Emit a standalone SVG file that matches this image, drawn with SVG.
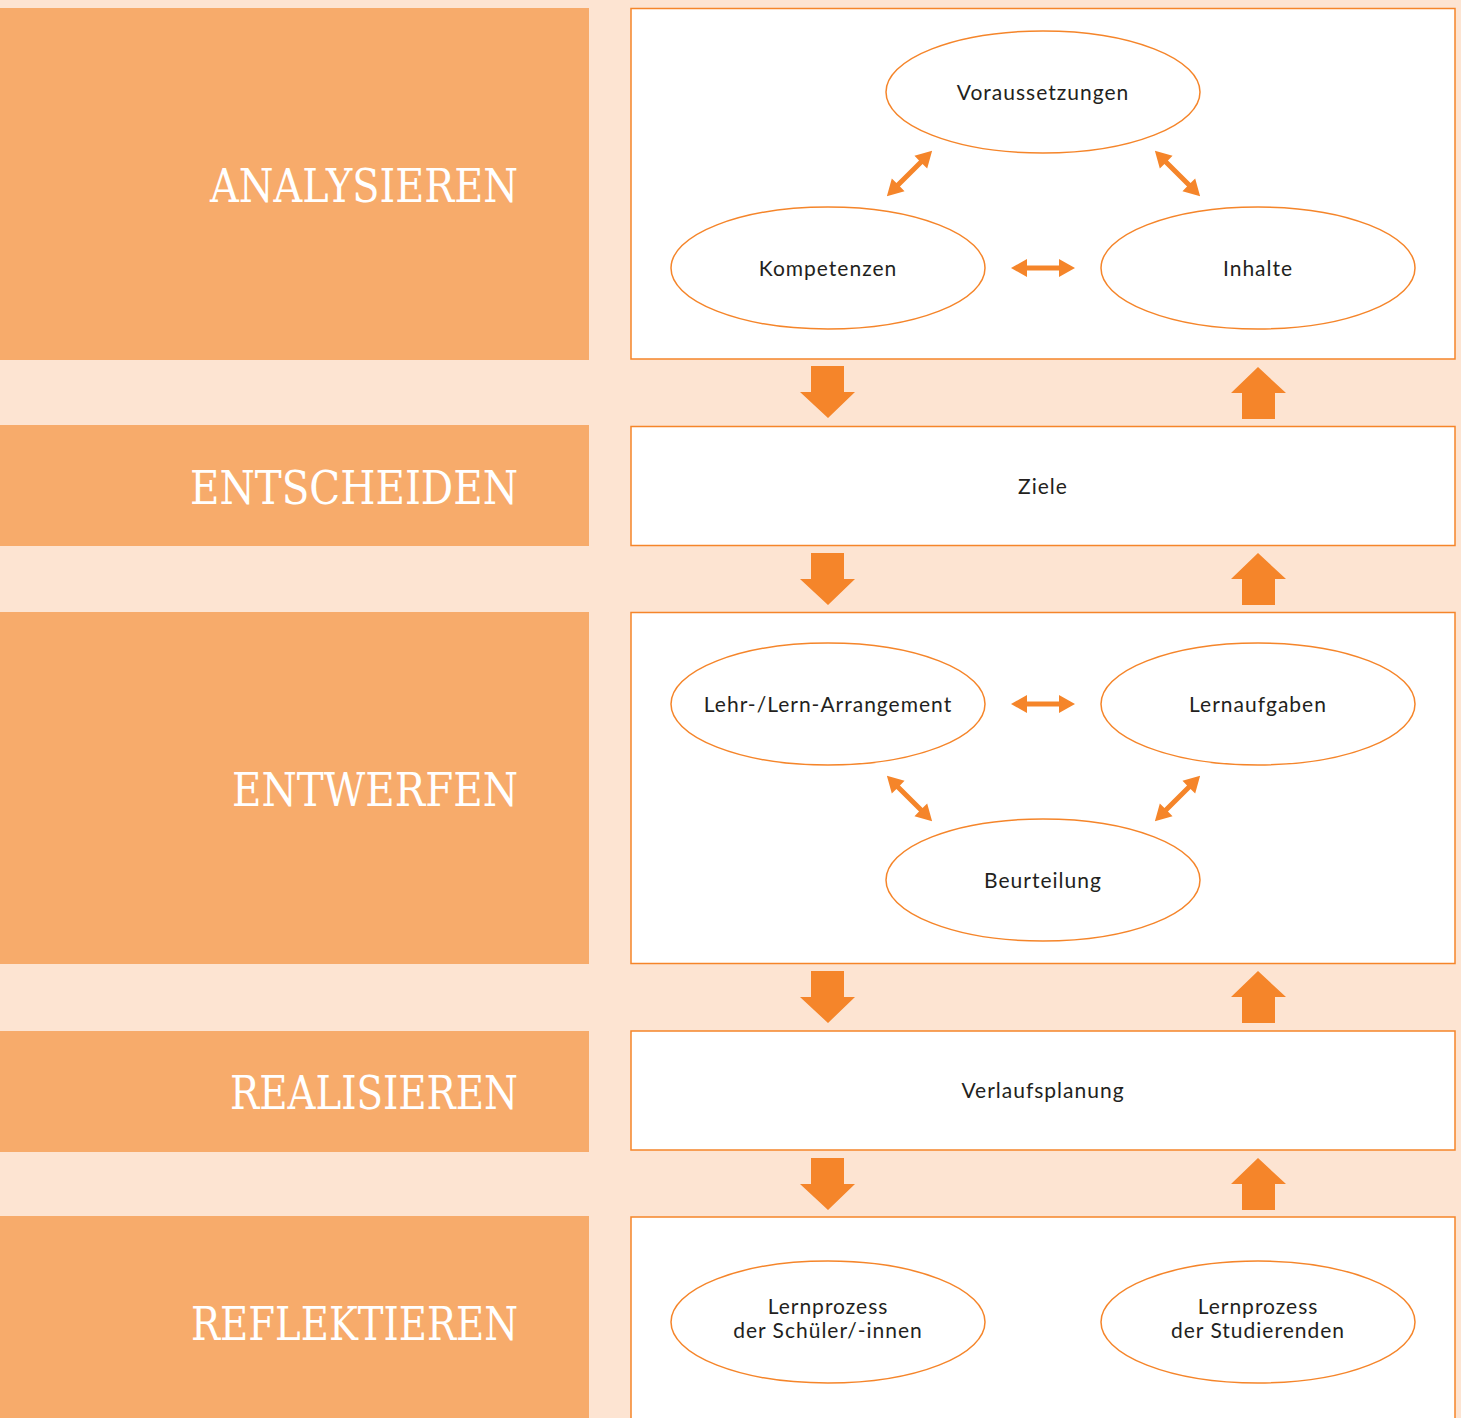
<svg xmlns="http://www.w3.org/2000/svg" width="1461" height="1418" viewBox="0 0 1461 1418">
  <defs>
    <style>
      .bar { fill: #F7AB6B; }
      .box { fill: #FFFFFF; stroke: #F5852A; stroke-width: 1.5; }
      .ell { fill: #FFFFFF; stroke: #F5852A; stroke-width: 1.5; }
      .phase { font-family: "DejaVu Serif", "Liberation Serif", serif; font-size: 46px; fill: #FFFFFF; text-anchor: end; }
      .lbl { font-family: "Lato", "Open Sans", sans-serif; font-size: 21px; fill: #231F20; text-anchor: middle; letter-spacing: 1px; }
      .flow { fill: #F5852A; }
    </style>
    <!-- two-way arrow, 64px long, centred on the origin -->
    <path id="both" d="M-32,0 L-16,-9 L-16,-2.5 L16,-2.5 L16,-9 L32,0 L16,9 L16,2.5 L-16,2.5 L-16,9 Z"/>
    <path id="down" d="M-17,0 H16 V26 H27 L0,52 L-28,26 H-17 Z"/>
    <path id="up" d="M0,0 L28,26 H17 V52 H-16 V26 H-27 Z"/>
  </defs>

  <!-- page background -->
  <rect x="0" y="0" width="1461" height="1418" fill="#FDE4D2"/>

  <!-- phase bars -->
  <g id="phase-analysieren">
    <rect class="bar" x="0" y="8" width="589" height="352"/>
    <text class="phase" x="518" y="202" textLength="308" lengthAdjust="spacingAndGlyphs">ANALYSIEREN</text>
  </g>
  <g id="phase-entscheiden">
    <rect class="bar" x="0" y="425" width="589" height="121"/>
    <text class="phase" x="518" y="504" textLength="328" lengthAdjust="spacingAndGlyphs">ENTSCHEIDEN</text>
  </g>
  <g id="phase-entwerfen">
    <rect class="bar" x="0" y="612" width="589" height="352"/>
    <text class="phase" x="518" y="806" textLength="286" lengthAdjust="spacingAndGlyphs">ENTWERFEN</text>
  </g>
  <g id="phase-realisieren">
    <rect class="bar" x="0" y="1031" width="589" height="121"/>
    <text class="phase" x="518" y="1109" textLength="288" lengthAdjust="spacingAndGlyphs">REALISIEREN</text>
  </g>
  <g id="phase-reflektieren">
    <rect class="bar" x="0" y="1216" width="589" height="210"/>
    <text class="phase" x="518" y="1340" textLength="327" lengthAdjust="spacingAndGlyphs">REFLEKTIEREN</text>
  </g>

  <!-- content panels -->
  <g id="panel-analyse"><rect class="box" x="631" y="8.5" width="824" height="350.5"/></g>
  <g id="panel-ziele">
    <rect class="box" x="631" y="426.5" width="824" height="119"/>
    <text class="lbl" x="1043" y="494">Ziele</text>
  </g>
  <g id="panel-entwurf"><rect class="box" x="631" y="612.5" width="824" height="351"/></g>
  <g id="panel-verlauf">
    <rect class="box" x="631" y="1031" width="824" height="119"/>
    <text class="lbl" x="1043" y="1098">Verlaufsplanung</text>
  </g>
  <g id="panel-reflexion"><rect class="box" x="631" y="1217" width="824" height="220"/></g>

  <!-- analysis nodes -->
  <g id="node-voraussetzungen">
    <ellipse class="ell" cx="1043" cy="92" rx="157" ry="61"/>
    <text class="lbl" x="1043" y="100">Voraussetzungen</text>
  </g>
  <g id="node-kompetenzen">
    <ellipse class="ell" cx="828" cy="268" rx="157" ry="61"/>
    <text class="lbl" x="828" y="276">Kompetenzen</text>
  </g>
  <g id="node-inhalte">
    <ellipse class="ell" cx="1258" cy="268" rx="157" ry="61"/>
    <text class="lbl" x="1258" y="276">Inhalte</text>
  </g>

  <!-- design nodes -->
  <g id="node-arrangement">
    <ellipse class="ell" cx="828" cy="704" rx="157" ry="61"/>
    <text class="lbl" x="828" y="712">Lehr-/Lern-Arrangement</text>
  </g>
  <g id="node-lernaufgaben">
    <ellipse class="ell" cx="1258" cy="704" rx="157" ry="61"/>
    <text class="lbl" x="1258" y="712">Lernaufgaben</text>
  </g>
  <g id="node-beurteilung">
    <ellipse class="ell" cx="1043" cy="880" rx="157" ry="61"/>
    <text class="lbl" x="1043" y="888">Beurteilung</text>
  </g>

  <!-- reflection nodes -->
  <g id="node-lernprozess-schueler">
    <ellipse class="ell" cx="828" cy="1322" rx="157" ry="61"/>
    <text class="lbl" x="828" y="1314">Lernprozess</text>
    <text class="lbl" x="828" y="1338">der Schüler/-innen</text>
  </g>
  <g id="node-lernprozess-studierende">
    <ellipse class="ell" cx="1258" cy="1322" rx="157" ry="61"/>
    <text class="lbl" x="1258" y="1314">Lernprozess</text>
    <text class="lbl" x="1258" y="1338">der Studierenden</text>
  </g>

  <!-- connectors -->
  <g id="connectors" class="flow">
    <!-- two-way links inside panels -->
    <use href="#both" transform="translate(909.5,173.5) rotate(-45)"/>
    <use href="#both" transform="translate(1177.5,173.5) rotate(45)"/>
    <use href="#both" transform="translate(1043,268)"/>
    <use href="#both" transform="translate(1043,704)"/>
    <use href="#both" transform="translate(909.5,798.5) rotate(45)"/>
    <use href="#both" transform="translate(1177.5,798.5) rotate(-45)"/>

    <!-- block arrows between phases -->
    <use href="#down" x="828" y="366"/>
    <use href="#up" x="1258" y="367"/>
    <use href="#down" x="828" y="553"/>
    <use href="#up" x="1258" y="553"/>
    <use href="#down" x="828" y="971"/>
    <use href="#up" x="1258" y="971"/>
    <use href="#down" x="828" y="1158"/>
    <use href="#up" x="1258" y="1158"/>
  </g>
</svg>
